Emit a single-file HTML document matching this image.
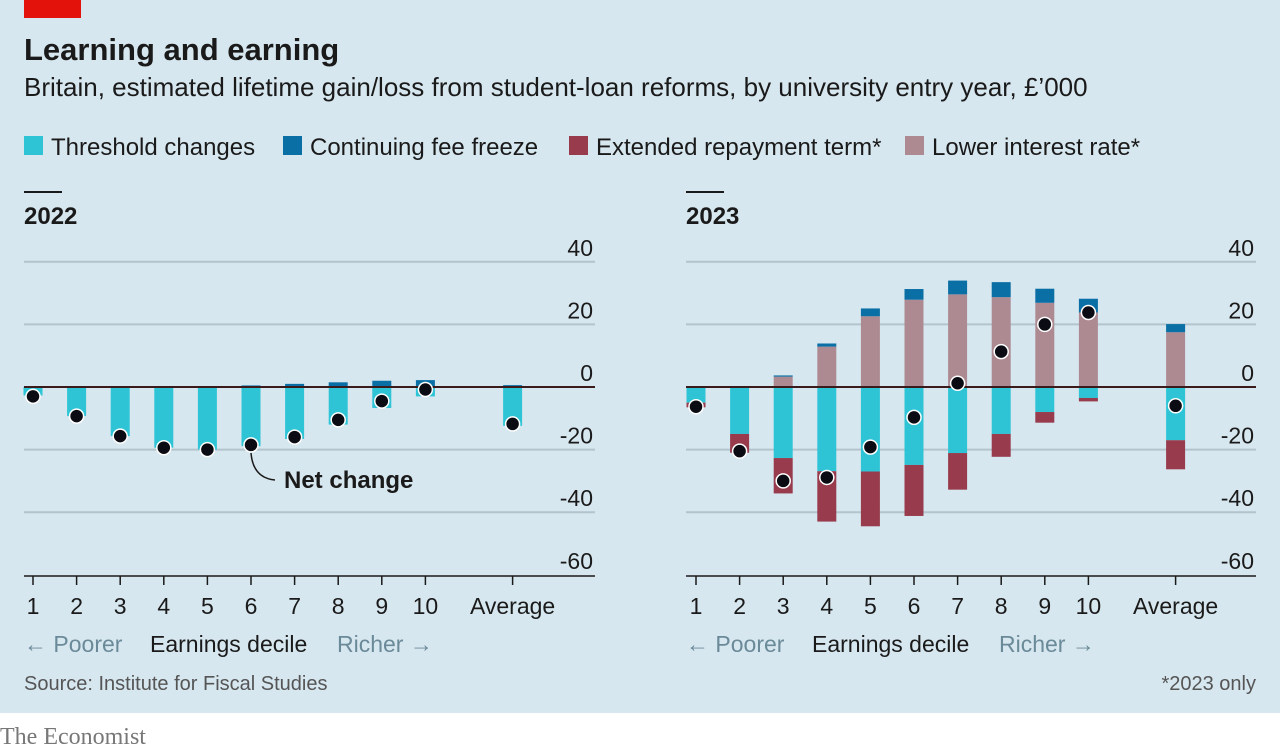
<!DOCTYPE html>
<html><head><meta charset="utf-8"><style>
body{margin:0;width:1280px;height:750px;background:#fff;font-family:"Liberation Sans",sans-serif;overflow:hidden}
svg text{font-family:"Liberation Sans",sans-serif}
</style></head><body>
<svg id="c" width="1280" height="750">
<rect x="0" y="0" width="1280" height="713" fill="#d7e7ef"/>
<rect x="24" y="0" width="57" height="18" fill="#e3120b"/>
<text x="24" y="60" font-size="31" font-weight="bold" fill="#1a1a1a">Learning and earning</text>
<text x="24" y="96" font-size="26" fill="#1a1a1a">Britain, estimated lifetime gain/loss from student-loan reforms, by university entry year, £’000</text>
<g font-size="24" fill="#1a1a1a">
<rect x="24" y="136" width="19" height="19" fill="#2ec4d6"/><text x="51" y="155">Threshold changes</text>
<rect x="283" y="136" width="19" height="19" fill="#0a6fa5"/><text x="310" y="155">Continuing fee freeze</text>
<rect x="569" y="136" width="19" height="19" fill="#973b4d"/><text x="596" y="155">Extended repayment term*</text>
<rect x="905" y="136" width="19" height="19" fill="#ad8a92"/><text x="932" y="155">Lower interest rate*</text>
</g>
<g id="p1"></g><g id="p2"></g>
<text x="24" y="690" font-size="20" fill="#555">Source: Institute for Fiscal Studies</text>
<text x="1256" y="690" font-size="20" fill="#555" text-anchor="end">*2023 only</text>
<text x="0" y="744" font-size="24" fill="#777" style="font-family:'Liberation Serif',serif">The Economist</text>
</svg>
<script>
const categories=["1","2","3","4","5","6","7","8","9","10","Average"];
const yTicks=[40,20,0,-20,-40,-60];
const t22=[-2.7,-9.3,-15.7,-19.4,-20,-18.9,-16.6,-12,-6.7,-3,-12.4];
const f22=[0,0,0,0,0.2,0.5,1,1.5,2,2.2,0.6];
const n22=[-3,-9.3,-15.7,-19.4,-20,-18.5,-16,-10.5,-4.5,-0.8,-11.8];
const t23=[-5,-15,-22.7,-26.9,-27,-24.9,-21.1,-15,-8,-3.5,-17];
const e23=[-1.5,-6,-11.3,-16.1,-17.5,-16.3,-11.7,-7.3,-3.4,-1.1,-9.3];
const i23=[0,0,3.3,12.9,22.6,27.9,29.6,28.7,26.9,23.8,17.5];
const f23=[0,0,0.4,1,2.5,3.4,4.4,4.8,4.5,4.4,2.6];
const n23=[-6.3,-20.5,-30,-28.9,-19.2,-9.7,1.2,11.3,20,23.8,-6];
const NS="http://www.w3.org/2000/svg";
function mk(p,tag,a){const e=document.createElementNS(NS,tag);for(const k in a)e.setAttribute(k,a[k]);p.appendChild(e);return e;}
function y(v){return 387-v*3.13;}
function panel(g,x0,x1,firstX,title,series,net,note){
  const xPos=i=>firstX+(i<10?i*43.6:11*43.6);
  let l=mk(g,'line',{x1:x0,x2:x0+38,y1:192,y2:192,stroke:'#1a1a1a','stroke-width':2});
  let tt=mk(g,'text',{x:x0,y:224,'font-size':24,'font-weight':'bold',fill:'#1a1a1a'});tt.textContent=title;
  
  
  yTicks.forEach(v=>{
    if(v!==0&&v!==-60){let gl=mk(g,'line',{x1:x0,x2:x1,y1:y(v),y2:y(v),stroke:'#b3c4cd','stroke-width':2});
    
    }
    let t=mk(g,'text',{x:x1-2,y:y(v)-6,'font-size':23,'text-anchor':'end',fill:'#1a1a1a'});t.textContent=v;
    
    
  });
  mk(g,'line',{x1:x0,x2:x1,y1:576,y2:576,stroke:'#1a1a1a','stroke-width':1.5});
  categories.forEach((c,i)=>{
    const cx=xPos(i);
    mk(g,'line',{x1:cx,x2:cx,y1:576,y2:585,stroke:'#1a1a1a','stroke-width':1.5});
    let t=mk(g,'text',{x:cx,y:614,'font-size':23,'text-anchor':'middle',fill:'#1a1a1a'});t.textContent=c;
    
    
    let pos=0,neg=0;
    series.forEach(s=>{
      const v=s.d[i];if(!v)return;
      let top,h;
      if(v>0){top=y(pos+v);h=v*3.13;pos+=v;}else{top=y(neg);h=-v*3.13;neg+=v;}
      let r=mk(g,'rect',{x:cx-9.5,y:top,width:19,height:h,fill:s.c});
      
      
    });
  });
  mk(g,'line',{x1:x0,x2:x1,y1:387,y2:387,stroke:'#3a1a1a','stroke-width':2});
  if(note){mk(g,'path',{d:`M${xPos(5)} ${y(net[5])+8} Q${xPos(5)+2} 478 ${xPos(5)+24} 480`,fill:'none',stroke:'#1a1a1a','stroke-width':1.5});
    let t=mk(g,'text',{x:284,y:488,'font-size':24,'font-weight':'bold',fill:'#1a1a1a'});t.textContent='Net change';
    
    }
  net.forEach((v,i)=>{
    let d=mk(g,'circle',{cx:xPos(i),cy:y(v),r:7,fill:'#0b0b14',stroke:'#fff','stroke-width':1.5});
    
    
  });
  let a=mk(g,'text',{x:x0,y:652,'font-size':23,fill:'#6b8a99'});a.textContent='← Poorer';
  
  
  let b=mk(g,'text',{x:x0+126,y:652,'font-size':23,fill:'#1a1a1a'});b.textContent='Earnings decile';
  
  
  let r=mk(g,'text',{x:x0+313,y:652,'font-size':23,fill:'#6b8a99'});r.textContent='Richer →';
  
  
}
const g1=document.getElementById('p1');


const g2=document.getElementById('p2');


panel(g1,24,595,33,'2022',[{n:'threshold',d:t22,c:'#2ec4d6'},{n:'fee',d:f22,c:'#0a6fa5'}],n22,true);
panel(g2,686,1256,696,'2023',[{n:'threshold',d:t23,c:'#2ec4d6'},{n:'extended',d:e23,c:'#973b4d'},{n:'interest',d:i23,c:'#ad8a92'},{n:'fee',d:f23,c:'#0a6fa5'}],n23,false);
</script>
</body></html>
